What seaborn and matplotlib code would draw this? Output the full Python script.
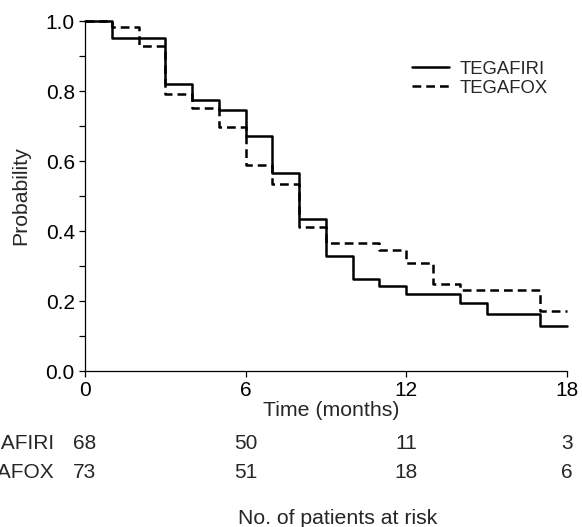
import pandas as pd
import numpy as np
import matplotlib
matplotlib.use("Agg")
import matplotlib.pyplot as plt
import seaborn as sns
from matplotlib.ticker import MultipleLocator

# Kaplan-Meier steps
tegafiri_time = [0, 1, 3, 4, 5, 6, 7, 8, 9, 10, 11, 12, 14, 15, 17, 18]
tegafiri_prob = [1.0, 0.953, 0.82, 0.774, 0.746, 0.671, 0.565, 0.433, 0.329,
                 0.262, 0.243, 0.22, 0.193, 0.162, 0.129, 0.129]
tegafox_time = [0, 1, 2, 3, 4, 5, 6, 7, 8, 9, 11, 12, 13, 14, 17, 18]
tegafox_prob = [1.0, 0.984, 0.929, 0.791, 0.752, 0.698, 0.589, 0.534, 0.411,
                0.365, 0.346, 0.309, 0.25, 0.231, 0.172, 0.172]

# patients at risk table
risk_times = [0, 6, 12, 18]
risk_tegafiri = [68, 50, 11, 3]
risk_tegafox = [73, 51, 18, 6]

df = pd.concat([
    pd.DataFrame({"time": tegafiri_time, "prob": tegafiri_prob, "arm": "TEGAFIRI"}),
    pd.DataFrame({"time": tegafox_time, "prob": tegafox_prob, "arm": "TEGAFOX"}),
])

sns.set_style("ticks")
plt.rcParams["font.family"] = ["Liberation Sans", "DejaVu Sans"]

fig = plt.figure(figsize=(5.82, 5.27), dpi=100)
ax = fig.add_axes([0.146, 0.296, 0.828, 0.664])

sns.lineplot(data=df, x="time", y="prob", style="arm", color="black",
             dashes={"TEGAFIRI": "", "TEGAFOX": (3.5, 2)},
             drawstyle="steps-post", linewidth=1.8, ax=ax, clip_on=False)

ax.set_xlim(0, 18)
ax.set_ylim(0, 1.0)
ax.set_xticks(risk_times)
ax.set_yticks(np.arange(0, 1.01, 0.2))
ax.set_yticklabels([f"{v:.1f}" for v in np.arange(0, 1.01, 0.2)])
ax.yaxis.set_minor_locator(MultipleLocator(0.1))
ax.tick_params(axis="both", which="both", direction="out", length=4.3, width=0.9,
               labelsize=15, color="black", labelcolor="black", pad=3)
for sp in ["left", "bottom"]:
    ax.spines[sp].set_linewidth(0.9)
    ax.spines[sp].set_color("black")
sns.despine(ax=ax)

ax.set_xlabel("Time (months)", fontsize=15.3)
ax.set_ylabel("Probability", fontsize=15.3)
ax.xaxis.set_label_coords(0.512, -0.085)
ax.yaxis.set_label_coords(-0.113, 0.5)

handles, labels = ax.get_legend_handles_labels()
ax.legend(handles, labels, loc="upper right", bbox_to_anchor=(0.975, 0.908),
          frameon=False, fontsize=13.3, handlelength=2.0, handletextpad=0.55,
          labelspacing=0.12, borderaxespad=0)

# at-risk rows below the axis
trans = ax.get_xaxis_transform()
for name, counts, yy in [("TEGAFIRI", risk_tegafiri, -0.206),
                         ("TEGAFOX", risk_tegafox, -0.289)]:
    ax.text(-1.15, yy, name, transform=trans, ha="right", va="center", fontsize=15)
    for t, n in zip(risk_times, counts):
        ax.text(t, yy, str(n), transform=trans, ha="center", va="center", fontsize=15)

fig.text(0.581, 0.017, "No. of patients at risk", ha="center", va="center", fontsize=15.3)

fig.savefig("out.png", dpi=100)
